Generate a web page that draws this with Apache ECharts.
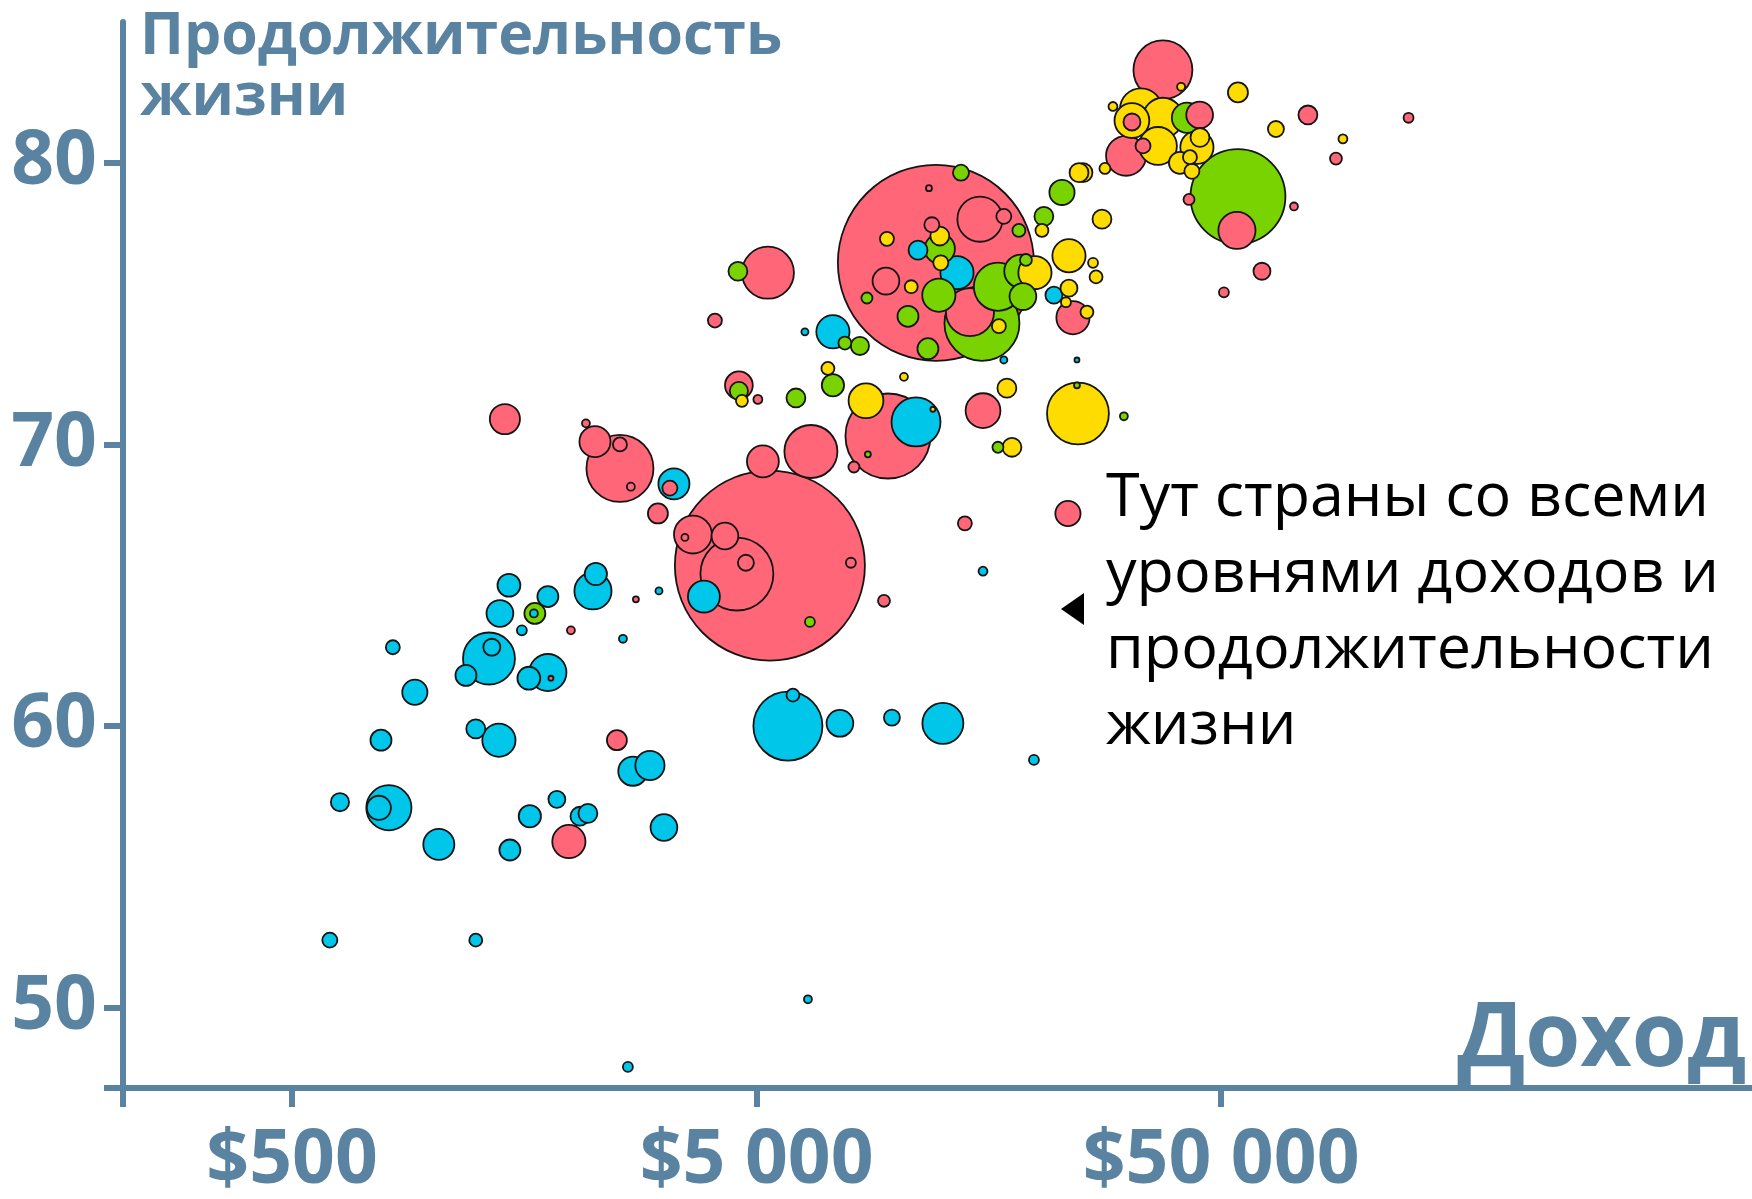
<!DOCTYPE html>
<html>
<head>
<meta charset="utf-8">
<script src="https://cdn.jsdelivr.net/npm/echarts@6/dist/echarts.min.js"></script>
<style>
html, body { margin: 0; padding: 0; background: #fff; }
#chart { width: 1752px; height: 1199px; }
</style>
</head>
<body>
<div id="chart"></div>
<script>
// [доход $, продолжительность жизни, население млн]
const africa = [
  [1465, 65.0, 19], [2254, 65.4, 18], [2222, 64.8, 50], [1777, 64.6, 16], [1658, 64.0, 2.3],
  [1401, 64.0, 26], [1562, 63.4, 3.6], [3082, 64.8, 1.8], [2578, 63.1, 2.3], [824, 62.8, 7.1],
  [1327, 62.4, 98], [1346, 62.8, 10.5], [1184, 61.8, 16], [1777, 61.9, 50], [1617, 61.7, 19],
  [919, 61.2, 23], [777, 59.5, 16], [1243, 59.9, 13], [1394, 59.5, 40], [2708, 58.4, 31],
  [2947, 58.6, 31], [634, 57.3, 12], [808, 57.1, 74], [769, 57.1, 21], [1035, 55.8, 35],
  [1625, 56.8, 18], [1858, 57.4, 10.5], [2083, 56.8, 13], [2167, 56.9, 13], [1472, 55.6, 16],
  [3159, 56.4, 26], [603, 52.4, 8.2], [1243, 52.4, 6.1], [2642, 47.9, 3.6], [5840, 60.0, 173],
  [5987, 61.1, 6.1], [3851, 64.6, 37], [6449, 50.3, 2.3], [7557, 60.1, 26], [9779, 60.3, 9.3],
  [12590, 60.1, 61], [19770, 58.8, 3.6], [15360, 65.5, 2.9], [3319, 68.6, 35], [7300, 74.0, 40],
  [6353, 74.0, 1.8], [11130, 76.9, 13], [13500, 76.1, 40], [21830, 75.3, 10.5], [17030, 73.0, 1.8],
  [24470, 73.0, 0.9], [11020, 70.8, 87]
];
const asia = [
  [1992, 63.4, 2.3], [2749, 64.5, 1.3], [1804, 61.7, 0.9], [2502, 59.5, 14.5], [1972, 55.9, 40],
  [5341, 65.7, 1310], [4535, 65.4, 193], [3647, 66.8, 52], [3505, 66.7, 1.8], [4274, 66.75, 26],
  [4742, 65.8, 9.3], [7980, 65.8, 3.6], [9402, 64.45, 5.2], [14040, 67.2, 7.1], [23400, 67.55, 23],
  [3066, 67.55, 14.5], [3253, 68.45, 8.2], [5159, 69.4, 37], [6545, 69.75, 102], [9588, 70.3, 262],
  [8100, 69.2, 4.4], [15360, 71.2, 44], [2244, 70.1, 35], [2146, 70.75, 2.3], [2540, 69.15, 163],
  [2540, 70.0, 7.1], [2681, 68.5, 2.3], [1436, 70.9, 33], [4580, 72.1, 28], [5032, 71.6, 2.9],
  [4067, 74.4, 7.1], [5290, 76.1, 98], [12160, 76.45, 1394], [11750, 79.1, 1.3], [15130, 78.0, 74],
  [17030, 78.1, 8.2], [11920, 77.8, 8.2], [9494, 75.8, 26], [14400, 74.7, 84], [23990, 74.5, 40],
  [37470, 83.3, 126], [32140, 81.45, 10.5], [33950, 80.6, 8.2], [31210, 80.25, 58], [44950, 81.7, 26],
  [42640, 78.7, 4.4], [54080, 77.6, 50], [76880, 81.7, 13], [88350, 80.15, 5.2], [71750, 78.45, 2.3],
  [61220, 76.15, 10.5], [50700, 75.4, 3.6], [126600, 81.6, 3.6]
];
const americas = [
  [6513, 63.7, 3.6], [4580, 71.9, 12], [6077, 71.65, 13], [7300, 72.1, 18], [4558, 76.15, 13],
  [7745, 73.6, 6.1], [8345, 73.5, 12], [13770, 79.65, 9.3], [18350, 77.6, 6.1], [12400, 76.95, 33],
  [8640, 75.2, 4.4], [12340, 75.3, 40], [15280, 74.3, 204], [16540, 75.6, 84], [18530, 76.15, 40],
  [19000, 76.55, 5.2], [18720, 75.25, 26], [10590, 74.55, 16], [11690, 73.4, 16], [20770, 78.1, 13],
  [22720, 78.95, 23], [16540, 69.9, 4.4], [24470, 72.1, 1.3], [30880, 71.0, 2.3], [8680, 69.65, 1.3],
  [54350, 78.8, 327], [42210, 81.6, 33], [1666, 64.0, 16]
];
const europe = [
  [4650, 71.55, 5.2], [7120, 72.7, 6.1], [8600, 71.55, 44], [11980, 71.25, 0.9], [10380, 72.4, 2.3],
  [17290, 72.0, 13], [17730, 69.9, 13], [24590, 71.1, 139], [9541, 77.3, 7.1], [12400, 77.4, 13],
  [12460, 76.45, 8.2], [10760, 75.6, 6.1], [16620, 74.2, 7.1], [19870, 76.1, 40], [20570, 77.6, 6.1],
  [23520, 76.7, 40], [26500, 76.45, 3.6], [26900, 75.95, 6.1], [23520, 75.55, 10.5], [23170, 75.05, 3.6],
  [25710, 74.7, 6.1], [27700, 78.0, 13], [25210, 79.65, 13], [24720, 79.65, 13], [28110, 79.8, 4.4],
  [41000, 82.7, 2.3], [33610, 81.9, 64], [32130, 81.5, 44], [37470, 81.6, 58], [36560, 80.6, 52],
  [29250, 82.0, 2.9], [45020, 80.9, 13], [44350, 80.55, 40], [42840, 80.2, 7.1], [43260, 79.7, 8.2],
  [40770, 80.0, 17.6], [54350, 82.5, 14.5], [65610, 81.2, 9.3], [91450, 80.85, 2.9]
];

const xTicks = [500, 5000, 50000];
const yTicks = [50, 60, 70, 80];
const xMin = 216.3, xMax = 694700;
const yMin = 47.15, yMax = 85;

const AXIS = '#5983a1';
const colors = { africa: '#00c6ea', asia: '#ff6678', americas: '#78d300', europe: '#ffdc00' };

// все пузыри одной серией: большие снизу, маленькие сверху
let bubbles = [];
[['africa', africa], ['asia', asia], ['americas', americas], ['europe', europe]].forEach(function (r) {
  r[1].forEach(function (d) {
    bubbles.push({ value: d, itemStyle: { color: colors[r[0]] } });
  });
});
bubbles.sort(function (a, b) { return b.value[2] - a.value[2]; });

const money = function (v) {
  return '$' + String(Math.round(v)).replace(/\B(?=(\d{3})+(?!\d))/g, ' ');
};

const chart = echarts.init(document.getElementById('chart'));
chart.setOption({
  animation: false,
  backgroundColor: '#fff',
  grid: { left: 123, right: 0, top: 22, bottom: 105 },
  xAxis: {
    type: 'log',
    logBase: 10,
    min: xMin,
    max: xMax,
    splitLine: { show: false },
    axisLine: { lineStyle: { color: AXIS, width: 6 } },
    axisTick: { length: 19, lineStyle: { color: AXIS, width: 6 }, customValues: [xMin].concat(xTicks) },
    axisLabel: {
      customValues: xTicks,
      margin: 36,
      color: AXIS,
      fontFamily: 'Open Sans',
      fontWeight: 'bold',
      fontSize: 75,
      formatter: money
    }
  },
  yAxis: {
    type: 'value',
    min: yMin,
    max: yMax,
    splitLine: { show: false },
    axisLine: { lineStyle: { color: AXIS, width: 6 } },
    axisTick: { length: 19, lineStyle: { color: AXIS, width: 6 }, customValues: [yMin].concat(yTicks) },
    axisLabel: {
      customValues: yTicks,
      margin: 26,
      color: AXIS,
      fontFamily: 'Open Sans',
      fontWeight: 'bold',
      fontSize: 75,
      padding: [11, 0, 0, 0]
    }
  },
  series: [{
    type: 'scatter',
    silent: true,
    clip: false,
    data: bubbles,
    symbolSize: function (v) { return Math.sqrt(v[2]) * 5.25; },
    itemStyle: { borderColor: '#151515', borderWidth: 1.8, opacity: 1 }
  }],
  graphic: [
    {
      type: 'text', x: 140, y: 7,
      style: {
        text: 'Продолжительность\nжизни', font: 'bold 59px "Open Sans"', fill: AXIS,
        lineHeight: 61, align: 'left', verticalAlign: 'top'
      }
    },
    {
      type: 'text', x: 1746, y: 996,
      style: {
        text: 'Доход', font: 'bold 89px "Open Sans"', fill: AXIS,
        align: 'right', verticalAlign: 'top', textAlign: 'right'
      }
    },
    {
      type: 'text', x: 1106, y: 461,
      style: {
        text: 'Тут страны со всеми\nуровнями доходов и\nпродолжительности\nжизни',
        font: '61px "Open Sans"', fill: '#000', lineHeight: 76, align: 'left', verticalAlign: 'top'
      }
    },
    {
      type: 'polygon',
      shape: { points: [[1061, 609], [1084, 593], [1084, 625]] },
      style: { fill: '#000' }
    }
  ]
});
</script>
</body>
</html>
